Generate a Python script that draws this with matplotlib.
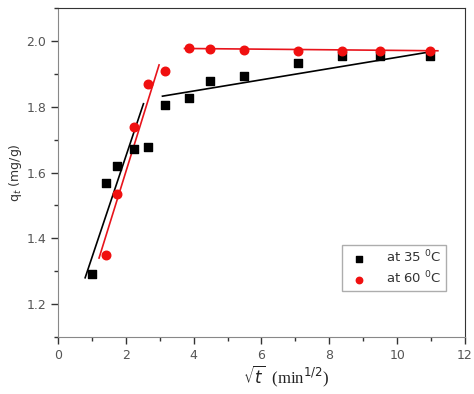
import matplotlib.pyplot as plt
import numpy as np
from matplotlib.ticker import MultipleLocator

# sqrt(t) values
x_pts = [1.0, 1.414, 1.732, 2.236, 2.646, 3.162, 3.873, 4.472, 5.477, 7.071, 8.367, 9.487, 10.954]
q_35 = [1.29, 1.567, 1.619, 1.671, 1.676, 1.806, 1.827, 1.877, 1.894, 1.933, 1.953, 1.953, 1.953]
x_60 = [1.414, 1.732, 2.236, 2.646, 3.162, 3.873, 4.472, 5.477, 7.071, 8.367, 9.487, 10.954]
q_60 = [1.348, 1.535, 1.737, 1.868, 1.909, 1.979, 1.975, 1.972, 1.970, 1.970, 1.970, 1.970]

# fitted line segments (start, end)
fit35_a_x = [0.80, 2.52]
fit35_a_y = [1.28, 1.809]
fit35_b_x = [3.08, 11.05]
fit35_b_y = [1.832, 1.968]
fit60_a_x = [1.21, 2.98]
fit60_a_y = [1.34, 1.927]
fit60_b_x = [3.73, 11.2]
fit60_b_y = [1.977, 1.970]

fig = plt.figure(figsize=(4.74, 3.94), dpi=100)
ax = fig.add_axes([58/474, 57/394, 407/474, 329/394])

ax.plot(fit35_a_x, fit35_a_y, color='black', lw=1.2)
ax.plot(fit35_b_x, fit35_b_y, color='black', lw=1.2)
ax.plot(fit60_a_x, fit60_a_y, color='#e8141c', lw=1.2)
ax.plot(fit60_b_x, fit60_b_y, color='#e8141c', lw=1.2)

ax.scatter(x_pts, q_35, marker='s', s=32, color='black', label='at 35 $^0$C', zorder=3)
ax.scatter(x_60, q_60, marker='o', s=38, color='#f01010', label='at 60 $^0$C', zorder=3)

ax.set_xlim(0, 12)
ax.set_ylim(1.1, 2.1)
ax.xaxis.set_major_locator(MultipleLocator(2))
ax.xaxis.set_minor_locator(MultipleLocator(1))
ax.yaxis.set_minor_locator(MultipleLocator(0.1))
ax.set_yticks([1.2, 1.4, 1.6, 1.8, 2.0])
ax.set_yticklabels(['1.2', '1.4', '1.6', '1.8', '2.0'])

for s in ['left', 'bottom']:
    ax.spines[s].set_color('#888888')
for s in ['top', 'right']:
    ax.spines[s].set_color('#333333')
ax.tick_params(which='major', length=5, width=1, color='#333333', labelcolor='#555555', labelsize=9)
ax.tick_params(which='minor', length=3, width=1, color='#333333')

ax.set_ylabel('q$_t$ (mg/g)', fontsize=9, color='#333333')
ax.yaxis.set_label_coords(-0.083, 0.5)
ax.set_xlabel(r'$\sqrt{t}$  (min$^{1/2}$)', fontsize=12, family='Liberation Serif',
              color='#222222')
ax.xaxis.set_label_coords(0.56, -0.08)

leg = ax.legend(loc='lower right', bbox_to_anchor=(0.953, 0.14), fontsize=9.5,
                frameon=True, fancybox=False, handletextpad=1.0, markerscale=0.75,
                borderpad=0.35, labelspacing=0.3, borderaxespad=0)
leg.get_frame().set_edgecolor('#999999')
leg.get_frame().set_linewidth(1)
for t in leg.get_texts():
    t.set_color('#333333')

plt.savefig('out.png', dpi=100)
